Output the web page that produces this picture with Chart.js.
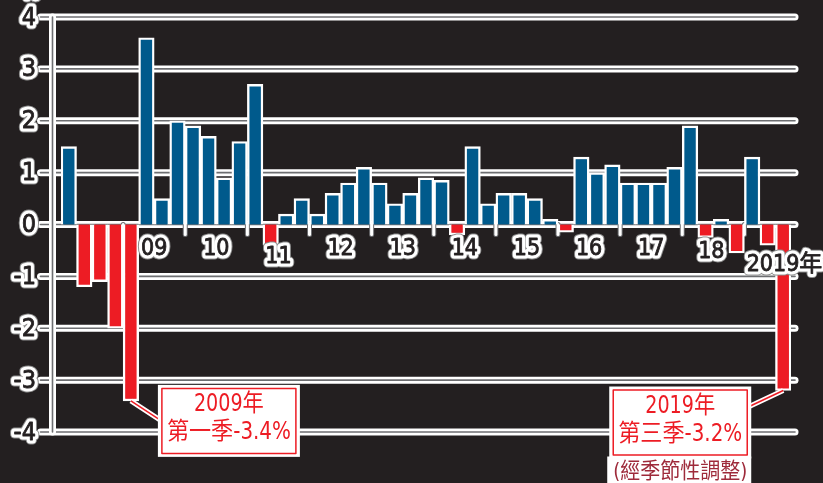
<!DOCTYPE html>
<html>
<head>
<meta charset="utf-8">
<script src="https://cdn.jsdelivr.net/npm/chart.js@4.4.1/dist/chart.umd.min.js"></script>
<style>
html, body { margin: 0; padding: 0; background: #231f20; }
canvas { display: block; }
</style>
</head>
<body>
<canvas id="gdpChart" width="823" height="483"></canvas>
<script>
// quarterly GDP change, seasonally adjusted (%), 2008 Q1 - 2019 Q3
var years = [2008, 2009, 2010, 2011, 2012, 2013, 2014, 2015, 2016, 2017, 2018, 2019];
var growth = [
    1.5, -1.2, -1.1, -2.0,
    -3.4, 3.6, 0.5, 2.0,
    1.9, 1.7, 0.9, 1.6,
    2.7, -0.4, 0.2, 0.5,
    0.2, 0.6, 0.8, 1.1,
    0.8, 0.4, 0.6, 0.9,
    0.85, -0.2, 1.5, 0.4,
    0.6, 0.6, 0.5, 0.1,
    -0.15, 1.3, 1.0, 1.15,
    0.8, 0.8, 0.8, 1.1,
    1.9, -0.25, 0.1, -0.55,
    1.3, -0.4, -3.2
];
var yearLabels = ['', '09', '10', '11', '12', '13', '14', '15', '16', '17', '18', '2019年'];
var yTicks = [4, 3, 2, 1, 0, -1, -2, -3, -4];
var callouts = [
    { index: 4, lines: ['2009年', '第一季-3.4%'] },
    { index: 46, lines: ['2019年', '第三季-3.2%'], note: '(經季節性調整)' }
];

var quarters = [];
for (var i = 0; i < growth.length; i++) {
    quarters.push(years[Math.floor(i / 4)] + 'Q' + (i % 4 + 1));
}

var BG = '#231f20';
var BLUE = '#005a8c';
var RED = '#ed1c24';
var FONT = "'Liberation Sans Narrow', 'DejaVu Sans Condensed', 'Noto Sans CJK TC', sans-serif";

function haloText(ctx, txt, x, y, size, align) {
    ctx.font = size + 'px ' + FONT;
    ctx.textAlign = align || 'center';
    ctx.textBaseline = 'middle';
    ctx.lineJoin = 'round';
    ctx.strokeStyle = '#8c8c8c';
    ctx.lineWidth = 9;
    ctx.strokeText(txt, x, y);
    ctx.strokeStyle = '#ffffff';
    ctx.lineWidth = 7;
    ctx.strokeText(txt, x, y);
    ctx.fillStyle = BG;
    ctx.strokeStyle = BG;
    ctx.lineWidth = 0.8;
    ctx.strokeText(txt, x, y);
    ctx.fillText(txt, x, y);
}

function doubleLine(ctx, x1, y1, x2, y2, w) {
    ctx.lineCap = 'round';
    ctx.strokeStyle = '#ffffff';
    ctx.lineWidth = w;
    ctx.beginPath(); ctx.moveTo(x1, y1); ctx.lineTo(x2, y2); ctx.stroke();
    ctx.strokeStyle = '#6d6e71';
    ctx.lineWidth = 1.6;
    ctx.beginPath(); ctx.moveTo(x1, y1); ctx.lineTo(x2, y2); ctx.stroke();
}

var gridPlugin = {
    id: 'gridPlugin',
    beforeDatasetsDraw: function(chart) {
        var ctx = chart.ctx, area = chart.chartArea;
        var xs = chart.scales.x, ys = chart.scales.y;
        var axisX = area.left - 8.5;
        ctx.save();
        // horizontal lines
        yTicks.forEach(function(v) {
            var y = ys.getPixelForValue(v);
            doubleLine(ctx, axisX - 12, y, area.right + 4, y, 7);
        });
        // vertical axis
        doubleLine(ctx, axisX, ys.getPixelForValue(4), axisX, ys.getPixelForValue(-4), 7);
        // year ticks hanging below zero line
        var y0 = ys.getPixelForValue(0);
        for (var i = 4; i < growth.length; i += 4) {
            var x = (xs.getPixelForValue(i - 1) + xs.getPixelForValue(i)) / 2;
            ctx.lineCap = 'round';
            ctx.strokeStyle = '#6d6e71';
            ctx.lineWidth = 5;
            ctx.beginPath(); ctx.moveTo(x, y0); ctx.lineTo(x, y0 + 10); ctx.stroke();
            ctx.strokeStyle = '#ffffff';
            ctx.lineWidth = 3;
            ctx.beginPath(); ctx.moveTo(x, y0); ctx.lineTo(x, y0 + 10); ctx.stroke();
        }
        ctx.restore();
    }
};

var labelShift = { '11': [0, 8], '18': [-2, 3], '2019年': [9, 16] };

var labelPlugin = {
    id: 'labelPlugin',
    afterDatasetsDraw: function(chart) {
        var ctx = chart.ctx, area = chart.chartArea;
        var xs = chart.scales.x, ys = chart.scales.y;
        var step = xs.getPixelForValue(1) - xs.getPixelForValue(0);
        ctx.save();

        // y tick labels
        yTicks.forEach(function(v) {
            haloText(ctx, String(v), area.left - 25, ys.getPixelForValue(v) + 1, 25, 'right');
        });
        haloText(ctx, '%', 31, -7, 20, 'center');

        // year labels
        var y0 = ys.getPixelForValue(0);
        yearLabels.forEach(function(lab, k) {
            if (!lab) return;
            var first = k * 4;
            var x = xs.getPixelForValue(first) + 1.5 * step;
            var sh = labelShift[lab] || [0, 0];
            haloText(ctx, lab, x + sh[0], y0 + 25 + sh[1], 23, 'center');
        });

        // callout boxes
        callouts.forEach(function(c) {
            var bx = xs.getPixelForValue(c.index);
            var by = ys.getPixelForValue(growth[c.index]);
            var left, top, w = 142, h = 72, lx, ly;
            if (c.index < growth.length / 2) {
                left = bx + 27; top = by - 16;
                lx = left + 2; ly = top + 35;
            } else {
                left = bx - 174; top = by - 4;
                lx = left + w - 2; ly = top + 20;
            }
            // connector
            ctx.lineCap = 'butt';
            ctx.strokeStyle = '#ffffff';
            ctx.lineWidth = 5;
            ctx.beginPath(); ctx.moveTo(bx, by); ctx.lineTo(lx, ly); ctx.stroke();
            ctx.strokeStyle = RED;
            ctx.lineWidth = 1.5;
            ctx.beginPath(); ctx.moveTo(bx, by); ctx.lineTo(lx, ly); ctx.stroke();
            // box
            ctx.fillStyle = '#ffffff';
            ctx.fillRect(left, top, w, h);
            ctx.strokeStyle = RED;
            ctx.lineWidth = 1.5;
            ctx.strokeRect(left + 4, top + 3.5, w - 8, h - 7);
            ctx.fillStyle = RED;
            ctx.textAlign = 'center';
            ctx.textBaseline = 'middle';
            ctx.font = '24px ' + FONT;
            ctx.fillText(c.lines[0], left + w / 2, top + 20, 70);
            ctx.fillText(c.lines[1], left + w / 2, top + 48, 124);
            if (c.note) {
                ctx.fillStyle = '#ffffff';
                ctx.fillRect(left - 2, top + h - 2, w + 2, 40);
                ctx.fillStyle = '#9e2a3a';
                ctx.font = '22px ' + FONT;
                ctx.fillText(c.note, left + w / 2, top + h + 14, 134);
            }
        });
        ctx.restore();
    }
};

var chart = new Chart(document.getElementById('gdpChart').getContext('2d'), {
    type: 'bar',
    data: {
        labels: quarters,
        datasets: [{
            label: 'GDP',
            data: growth,
            backgroundColor: growth.map(function(v) { return v < 0 ? RED : BLUE; }),
            borderColor: '#ffffff',
            borderWidth: 2.4,
            categoryPercentage: 1.0,
            barPercentage: 1.0
        }]
    },
    options: {
        responsive: false,
        devicePixelRatio: 1,
        animation: false,
        layout: { padding: { left: 61, right: 32, top: 17, bottom: 51 } },
        plugins: {
            legend: { display: false },
            tooltip: { enabled: false }
        },
        scales: {
            x: { display: false },
            y: { display: false, min: -4, max: 4 }
        }
    },
    plugins: [gridPlugin, labelPlugin]
});
</script>
</body>
</html>
